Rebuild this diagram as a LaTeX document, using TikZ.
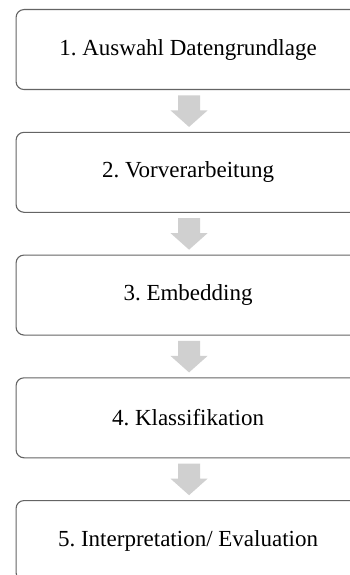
\documentclass[tikz,border=0pt]{standalone}
\usepackage{fontspec}
\setmainfont{Liberation Serif}
\usetikzlibrary{calc}
\frenchspacing
\definecolor{boxline}{RGB}{100,100,100}
\definecolor{arrowgray}{RGB}{208,208,208}
\newcommand\myblockarrow[3]{%
  \coordinate (#3) at ($(#1.south)!0.5!(#2.north)+(1,0)$);
  \fill[blockarrow] ($(#3)+(-11,15.5)$) -- ($(#3)+(11,15.5)$) -- ($(#3)+(11,0.5)$)
    -- ($(#3)+(18.5,0.5)$) -- ($(#3)+(0,-16)$) -- ($(#3)+(-18.5,0.5)$)
    -- ($(#3)+(-11,0.5)$) -- cycle;}
\begin{document}
\begin{tikzpicture}[x=1pt,y=1pt,
  stepbox/.style={draw=boxline, line width=1.1pt, fill=white, rounded corners=8pt,
    minimum width=344pt, minimum height=80pt, inner sep=0pt,
    font=\fontsize{23}{27}\selectfont, anchor=north west},
  blockarrow/.style={fill=arrowgray}]
\useasboundingbox (0,0) rectangle (350,-575);
\clip (0,0) rectangle (350,-575);
\fill[white] (0,0) rectangle (350,-575);
\node[stepbox] (b1) at (15.5,-9) {1. Auswahl Datengrundlage};
\node[stepbox] (b2) at (15.5,-131.75) {2. Vorverarbeitung};
\node[stepbox] (b3) at (15.5,-254.5) {3. Embedding};
\node[stepbox] (b4) at (15.5,-377.25) {4. Klassifikation};
\node[stepbox] (b5) at (15.5,-500) {5. Interpretation/ Evaluation};
\myblockarrow{b1}{b2}{m1}
\myblockarrow{b2}{b3}{m2}
\myblockarrow{b3}{b4}{m3}
\myblockarrow{b4}{b5}{m4}
\end{tikzpicture}
\end{document}
